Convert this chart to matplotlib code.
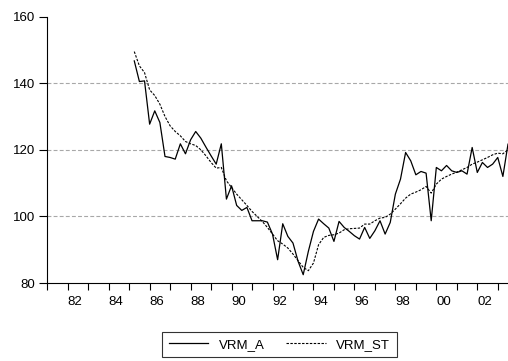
import numpy as np
import matplotlib
matplotlib.use("Agg")
import matplotlib.pyplot as plt

plt.rcParams['font.family'] = ['Liberation Sans', 'DejaVu Sans']

# datos trimestrales 1985Q2 - 2003Q3
inicio = 1985.25
vrm_a = [146.7, 140.5, 140.7, 127.7, 131.7, 128.2, 118.0, 117.7, 117.2, 121.8,
         118.8, 123.0, 125.5, 123.5, 120.8, 118.2, 115.7, 121.8, 105.2, 109.2,
         103.3, 101.8, 102.7, 98.7, 98.7, 98.7, 98.3, 94.7, 87.0, 97.8,
         94.0, 92.0, 86.5, 82.5, 89.5, 95.5, 99.2, 97.8, 96.5, 92.5,
         98.5, 96.7, 95.5, 94.2, 93.2, 96.7, 93.4, 95.7, 98.7, 94.7,
         98.2, 106.7, 111.2, 119.2, 116.7, 112.5, 113.5, 113.0, 98.7, 114.7,
         113.7, 115.3, 113.7, 113.2, 113.7, 112.7, 120.7, 113.2, 116.2, 114.7,
         115.7, 117.7, 112.0, 121.7]
vrm_st = [149.5, 145.2, 143.2, 138.0, 136.3, 133.7, 130.0, 127.2, 125.5, 124.2,
          122.5, 121.8, 121.3, 120.0, 118.2, 116.2, 114.5, 114.7, 110.7, 108.7,
          106.7, 105.0, 103.3, 101.5, 100.0, 98.5, 96.7, 94.7, 92.7, 91.7,
          90.5, 88.7, 86.7, 84.7, 83.7, 86.0, 91.5, 93.7, 94.3, 94.5,
          95.0, 96.0, 96.3, 96.4, 96.5, 97.7, 97.7, 98.7, 99.5, 99.7,
          100.7, 102.2, 103.8, 105.5, 106.7, 107.3, 108.0, 109.0, 107.0, 109.7,
          111.2, 112.0, 112.7, 113.3, 114.0, 114.7, 115.7, 116.3, 117.0, 117.7,
          118.5, 119.0, 118.8, 120.0]
anios = list(range(1981, 2004))
etiquetas = ['82', '84', '86', '88', '90', '92', '94', '96', '98', '00', '02']
pos_etiquetas = [1982, 1984, 1986, 1988, 1990, 1992, 1994, 1996, 1998, 2000, 2002]

t = inicio + 0.25 * np.arange(len(vrm_a))

fig = plt.figure(figsize=(5.08, 3.61), dpi=100)
ax = fig.add_axes([0.093, 0.216, 0.907, 0.738])

for v in [100, 120, 140]:
    ax.axhline(v, color='#a8a8a8', lw=0.8, dashes=(3.5, 2), zorder=1)

ax.plot(t, vrm_a, color='black', lw=0.9, label='VRM_A', zorder=3)
ax.plot(t, vrm_st, color='black', lw=0.8, dashes=(2.2, 1.3), label='VRM_ST', zorder=2)

ax.set_xlim(1981, 2003.5)
ax.set_ylim(80, 160)
ax.set_yticks([80, 100, 120, 140, 160])
ax.set_xticks(anios)
ax.set_xticklabels([])
ax.set_xticks([p + 0.35 for p in pos_etiquetas], minor=True)
ax.set_xticklabels(etiquetas, minor=True)
ax.tick_params(axis='x', which='major', direction='out', length=5, width=0.8)
ax.tick_params(axis='x', which='minor', length=0, pad=9, labelsize=9.5)
ax.tick_params(axis='y', direction='out', length=6, width=0.8, pad=3, labelsize=9.5)

ax.spines['top'].set_visible(False)
ax.spines['right'].set_visible(False)
ax.spines['left'].set_linewidth(0.8)
ax.spines['bottom'].set_linewidth(0.8)

leg = fig.legend(loc='center', bbox_to_anchor=(0.55, 0.045), ncol=2,
                 fontsize=9.5, frameon=True, fancybox=False, edgecolor='black',
                 handlelength=3.0, handletextpad=0.8, columnspacing=1.6,
                 borderpad=0.5)
leg.get_frame().set_linewidth(0.8)

fig.savefig('out.png', dpi=100)
